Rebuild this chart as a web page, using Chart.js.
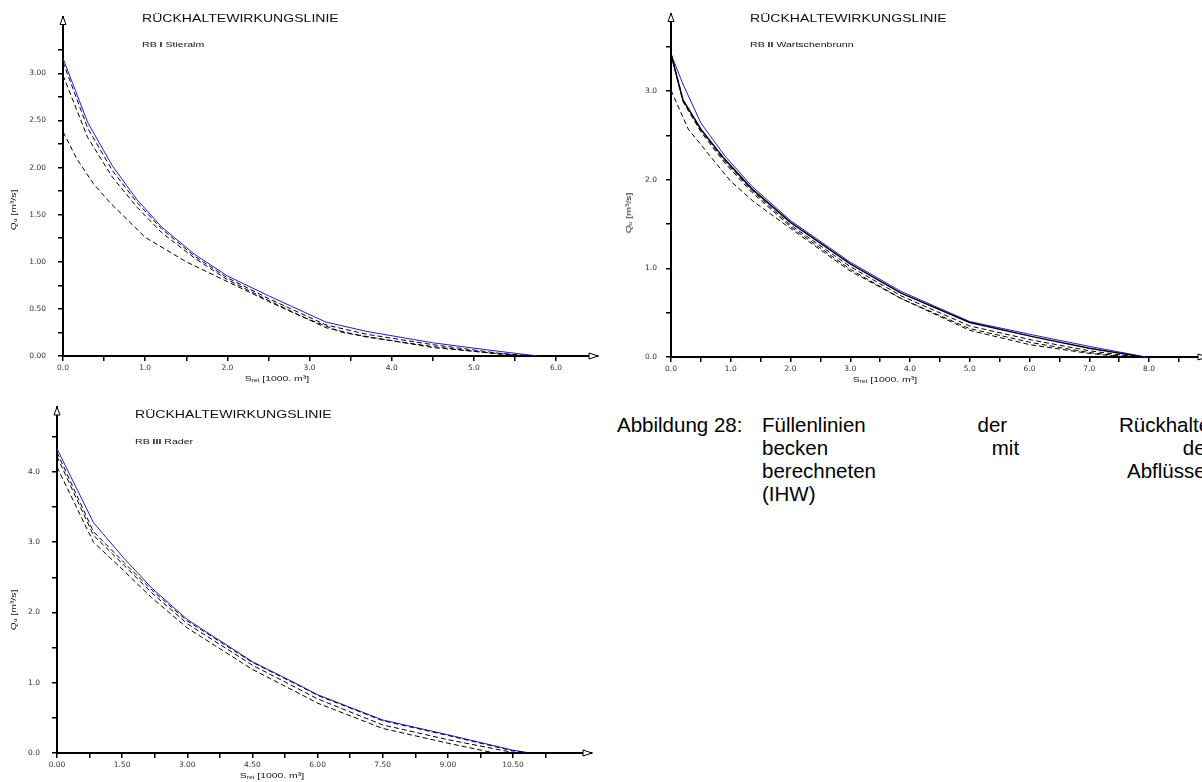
<!DOCTYPE html>
<html lang="de">
<head>
<meta charset="utf-8">
<title>Rückhaltewirkungslinie</title>
<script src="https://cdn.jsdelivr.net/npm/chart.js@4.4.1/dist/chart.umd.min.js"></script>
<style>
  body { margin:0; width:1202px; height:782px; overflow:hidden; background:#fff; position:relative; font-family:"Liberation Sans", Arial, sans-serif; }
  .box { position:absolute; }
  .lbl { position:absolute; white-space:nowrap; color:#111; transform-origin:0 0; line-height:1; }
  .ttl { font-size:10.5px; transform:scaleX(1.34); }
  .sub { font-size:8px; transform:scaleX(1.32); }
  .sub b { font-weight:bold; }
  .xt { font-size:8px; transform-origin:50% 50%; transform:translate(-50%,-50%) scaleX(1.3); }
  .yt { font-size:8px; transform-origin:50% 50%; transform:translate(-50%,-50%) rotate(-90deg) scaleX(1.3); }
  sub { font-size:5px; vertical-align:-1px; }
  .cap { position:absolute; font-size:20.5px; line-height:23px; color:#000; white-space:nowrap; }
  .just { text-align:justify; text-align-last:justify; }
</style>
</head>
<body>

<div class="box" style="left:0;top:0;width:600px;height:400px;"><canvas id="rb1"></canvas></div>
<div class="box" style="left:600px;top:0;width:620px;height:400px;"><canvas id="rb2"></canvas></div>
<div class="box" style="left:0;top:390px;width:600px;height:392px;"><canvas id="rb3"></canvas></div>

<div class="lbl ttl" style="left:142px;top:13px;">RÜCKHALTEWIRKUNGSLINIE</div>
<div class="lbl sub" style="left:142px;top:41px;">RB <b>I</b> Stieralm</div>
<div class="lbl yt" style="left:14px;top:210px;">Q<sub>u</sub> [m³/s]</div>
<div class="lbl xt" style="left:277px;top:379px;">S<sub>ret</sub> [1000. m³]</div>

<div class="lbl ttl" style="left:750px;top:13px;">RÜCKHALTEWIRKUNGSLINIE</div>
<div class="lbl sub" style="left:750px;top:41px;">RB <b>II</b> Wartschenbrunn</div>
<div class="lbl yt" style="left:629px;top:213px;">Q<sub>u</sub> [m³/s]</div>
<div class="lbl xt" style="left:885px;top:380px;">S<sub>ret</sub> [1000. m³]</div>

<div class="lbl ttl" style="left:135px;top:409px;">RÜCKHALTEWIRKUNGSLINIE</div>
<div class="lbl sub" style="left:135px;top:438px;">RB <b>III</b> Rader</div>
<div class="lbl yt" style="left:14px;top:610px;">Q<sub>u</sub> [m³/s]</div>
<div class="lbl xt" style="left:272px;top:776px;">S<sub>ret</sub> [1000. m³]</div>

<div class="cap" style="left:617px;top:413px;">Abbildung 28:</div>
<div class="cap just" style="left:762px;top:413px;width:455px;">Füllenlinien der Rückhalte-</div>
<div class="cap just" style="left:762px;top:436px;width:455px;">becken mit den</div>
<div class="cap just" style="left:762px;top:459px;width:455px;">berechneten Abflüssen</div>
<div class="cap" style="left:762px;top:482px;">(IHW)</div>

<script>
// ---- RB I Stieralm ----
const s1Blue = [0, 0.3, 0.6, 0.9, 1.2, 1.6, 2.0, 2.5, 3.2, 3.7, 4.5, 5.3, 5.78];
const q1Blue = [3.16, 2.48, 2.02, 1.66, 1.37, 1.08, 0.85, 0.64, 0.36, 0.26, 0.14, 0.05, 0];
const s1DashA = [0, 0.3, 0.6, 0.9, 1.2, 1.6, 2.0, 2.5, 3.2, 3.7, 4.5, 5.3, 5.72];
const q1DashA = [3.12, 2.42, 1.97, 1.63, 1.35, 1.06, 0.83, 0.61, 0.33, 0.23, 0.12, 0.03, 0];
const s1DashB = [0, 0.3, 0.6, 0.9, 1.2, 1.6, 2.0, 2.5, 3.2, 3.7, 4.5, 5.3, 5.62];
const q1DashB = [2.98, 2.32, 1.90, 1.58, 1.31, 1.04, 0.81, 0.59, 0.30, 0.20, 0.10, 0.02, 0];
const s1DashC = [0, 0.17, 0.37, 0.57, 1.0, 1.5, 2.0, 2.5, 2.9, 3.4, 4.5, 5.5, 5.65];
const q1DashC = [2.38, 2.09, 1.83, 1.63, 1.26, 1.0, 0.79, 0.58, 0.42, 0.25, 0.09, 0.01, 0];

const x1Ticks = [0, 0.5, 1, 1.5, 2, 2.5, 3, 3.5, 4, 4.5, 5, 5.5, 6];
const x1Major = [0, 1, 2, 3, 4, 5, 6];
const x1Labels = ['0.0', '1.0', '2.0', '3.0', '4.0', '5.0', '6.0'];
const y1Ticks = [0, 0.25, 0.5, 0.75, 1, 1.25, 1.5, 1.75, 2, 2.25, 2.5, 2.75, 3, 3.25];
const y1Major = [0, 0.5, 1, 1.5, 2, 2.5, 3];
const y1Labels = ['0.00', '0.50', '1.00', '1.50', '2.00', '2.50', '3.00'];

// ---- RB II Wartschenbrunn ----
const s2Blue = [0, 0.2, 0.5, 0.9, 1.35, 2.0, 3.0, 3.85, 5.0, 6.05, 7.0, 7.95];
const q2Blue = [3.42, 3.08, 2.64, 2.27, 1.93, 1.54, 1.07, 0.74, 0.40, 0.25, 0.12, 0];
const s2Solid = [0, 0.2, 0.5, 0.9, 1.35, 2.0, 3.0, 3.85, 5.0, 6.05, 7.0, 7.9];
const q2Solid = [3.42, 2.90, 2.57, 2.23, 1.90, 1.52, 1.05, 0.72, 0.39, 0.23, 0.10, 0];
const s2DashA = [0, 0.2, 0.5, 0.9, 1.35, 2.0, 3.0, 3.85, 5.0, 6.05, 7.0, 7.8];
const q2DashA = [3.42, 2.90, 2.56, 2.21, 1.88, 1.49, 1.02, 0.69, 0.35, 0.19, 0.07, 0];
const s2DashB = [0, 0.2, 0.5, 0.9, 1.35, 2.0, 3.0, 3.85, 5.0, 6.05, 7.0, 7.7];
const q2DashB = [3.42, 2.88, 2.54, 2.19, 1.86, 1.47, 0.99, 0.66, 0.32, 0.16, 0.05, 0];
const s2DashC = [0, 0.29, 0.99, 1.37, 2.0, 3.0, 3.85, 5.0, 6.0, 7.0, 7.6];
const q2DashC = [3.01, 2.57, 1.99, 1.76, 1.45, 0.97, 0.66, 0.30, 0.14, 0.04, 0];

const x2Ticks = [0, 0.5, 1, 1.5, 2, 2.5, 3, 3.5, 4, 4.5, 5, 5.5, 6, 6.5, 7, 7.5, 8, 8.5];
const x2Major = [0, 1, 2, 3, 4, 5, 6, 7, 8];
const x2Labels = ['0.0', '1.0', '2.0', '3.0', '4.0', '5.0', '6.0', '7.0', '8.0'];
const y2Ticks = [0, 0.5, 1, 1.5, 2, 2.5, 3, 3.5];
const y2Major = [0, 1, 2, 3];
const y2Labels = ['0.0', '1.0', '2.0', '3.0'];

// ---- RB III Rader ----
const s3Blue = [0, 0.84, 1.53, 2.18, 3.0, 4.5, 5.6, 6.0, 7.5, 9.0, 10.5, 10.9];
const q3Blue = [4.33, 3.28, 2.78, 2.35, 1.90, 1.30, 0.96, 0.83, 0.47, 0.26, 0.04, 0];
const s3DashA = [0, 0.84, 1.53, 2.18, 3.0, 4.5, 5.6, 6.0, 7.5, 9.0, 10.5, 10.9];
const q3DashA = [4.28, 3.15, 2.72, 2.32, 1.88, 1.29, 0.95, 0.82, 0.46, 0.25, 0.03, 0];
const s3DashB = [0, 0.84, 1.53, 2.18, 3.0, 4.5, 5.6, 6.0, 7.5, 9.0, 10.4, 10.6];
const q3DashB = [4.22, 3.10, 2.68, 2.28, 1.84, 1.25, 0.90, 0.77, 0.40, 0.19, 0.02, 0];
const s3DashC = [0, 0.84, 1.53, 2.18, 3.0, 4.5, 5.6, 6.0, 7.5, 9.0, 10.0, 10.3];
const q3DashC = [4.07, 3.00, 2.60, 2.21, 1.78, 1.19, 0.84, 0.71, 0.35, 0.14, 0.01, 0];

const x3Ticks = [0, 0.75, 1.5, 2.25, 3, 3.75, 4.5, 5.25, 6, 6.75, 7.5, 8.25, 9, 9.75, 10.5, 11.25];
const x3Major = [0, 1.5, 3, 4.5, 6, 7.5, 9, 10.5];
const x3Labels = ['0.00', '1.50', '3.00', '4.50', '6.00', '7.50', '9.00', '10.50'];
const y3Ticks = [0, 0.5, 1, 1.5, 2, 2.5, 3, 3.5, 4, 4.5];
const y3Major = [0, 1, 2, 3, 4];
const y3Labels = ['0.0', '1.0', '2.0', '3.0', '4.0'];

const BLUE = '#1a1aff';
const DASH = [5, 3];

const pts = function(xs, ys) {
    return xs.map((x, i) => ({ x: x, y: ys[i] }));
}

const line = function(xs, ys, color, dash, width) {
    return {
        data: pts(xs, ys),
        borderColor: color,
        borderWidth: width || 1,
        borderDash: dash || [],
        pointRadius: 0,
        tension: 0,
        showLine: true,
        fill: false
    };
}

// open arrow heads at the ends of both axes
const axisArrows = {
    id: 'axisArrows',
    afterDraw(chart) {
        const ctx = chart.ctx;
        const a = chart.chartArea;
        ctx.save();
        ctx.strokeStyle = '#000';
        ctx.fillStyle = '#fff';
        ctx.lineWidth = 1;
        ctx.beginPath();
        ctx.moveTo(a.left, a.top);
        ctx.lineTo(a.left - 3, a.top + 8);
        ctx.lineTo(a.left + 3, a.top + 8);
        ctx.closePath();
        ctx.fill();
        ctx.stroke();
        ctx.beginPath();
        ctx.moveTo(a.right, a.bottom);
        ctx.lineTo(a.right - 9, a.bottom - 3);
        ctx.lineTo(a.right - 9, a.bottom + 3);
        ctx.closePath();
        ctx.fill();
        ctx.stroke();
        ctx.restore();
    }
};

const labelFor = function(major, labels) {
    return function(v) {
        const i = major.findIndex(m => Math.abs(m - v) < 1e-6);
        return i >= 0 ? labels[i] : '';
    };
}

const renderChart = function(id, datasets, ax) {
    const tickFont = { family: 'DejaVu Sans', size: 7.5 };
    return new Chart(document.getElementById(id), {
        type: 'scatter',
        data: { datasets: datasets },
        options: {
            animation: false,
            responsive: true,
            maintainAspectRatio: false,
            layout: { padding: { top: ax.padTop, right: ax.padRight, left: 0, bottom: 0 } },
            plugins: { legend: { display: false }, tooltip: { enabled: false } },
            scales: {
                x: {
                    type: 'linear', min: 0, max: ax.xMax,
                    afterBuildTicks: s => { s.ticks = ax.xTicks.map(v => ({ value: v })); },
                    afterFit: s => { s.height = ax.xHeight; },
                    grid: { drawOnChartArea: false, drawTicks: true, tickLength: 5, color: '#000', lineWidth: 1.5 },
                    border: { color: '#000', width: 2 },
                    ticks: { callback: labelFor(ax.xMajor, ax.xLabels), autoSkip: false, maxRotation: 0, font: tickFont, color: '#333', padding: 3 }
                },
                y: {
                    type: 'linear', min: 0, max: ax.yMax,
                    afterBuildTicks: s => { s.ticks = ax.yTicks.map(v => ({ value: v })); },
                    afterFit: s => { s.width = ax.yWidth; },
                    grid: { drawOnChartArea: false, drawTicks: true, tickLength: 5, color: '#000', lineWidth: 1.5 },
                    border: { color: '#000', width: 2 },
                    ticks: { callback: labelFor(ax.yMajor, ax.yLabels), autoSkip: false, font: tickFont, color: '#333', padding: ax.yPad }
                }
            }
        },
        plugins: [axisArrows]
    });
}

renderChart('rb1', [
    line(s1DashC, q1DashC, '#000', DASH),
    line(s1DashB, q1DashB, '#000', DASH),
    line(s1DashA, q1DashA, '#000', DASH),
    line(s1Blue, q1Blue, BLUE)
], {
    xTicks: x1Ticks, xMajor: x1Major, xLabels: x1Labels, xMax: 6.51, xHeight: 44,
    yTicks: y1Ticks, yMajor: y1Major, yLabels: y1Labels, yMax: 3.604, yWidth: 63, yPad: 12,
    padTop: 10, padRight: 2
});

renderChart('rb2', [
    line(s2DashC, q2DashC, '#000', DASH),
    line(s2DashB, q2DashB, '#000', DASH),
    line(s2DashA, q2DashA, '#000', DASH),
    line(s2Solid, q2Solid, '#000', [], 1.5),
    line(s2Blue, q2Blue, BLUE)
], {
    xTicks: x2Ticks, xMajor: x2Major, xLabels: x2Labels, xMax: 8.97, xHeight: 43,
    yTicks: y2Ticks, yMajor: y2Major, yLabels: y2Labels, yMax: 3.876, yWidth: 71, yPad: 9,
    padTop: 12, padRight: 13
});

renderChart('rb3', [
    line(s3DashC, q3DashC, '#000', DASH),
    line(s3DashB, q3DashB, '#000', DASH),
    line(s3DashA, q3DashA, '#000', DASH),
    line(s3Blue, q3Blue, BLUE)
], {
    xTicks: x3Ticks, xMajor: x3Major, xLabels: x3Labels, xMax: 12.32, xHeight: 29,
    yTicks: y3Ticks, yMajor: y3Major, yLabels: y3Labels, yMax: 4.925, yWidth: 57, yPad: 12,
    padTop: 17, padRight: 8
});
</script>
</body>
</html>
